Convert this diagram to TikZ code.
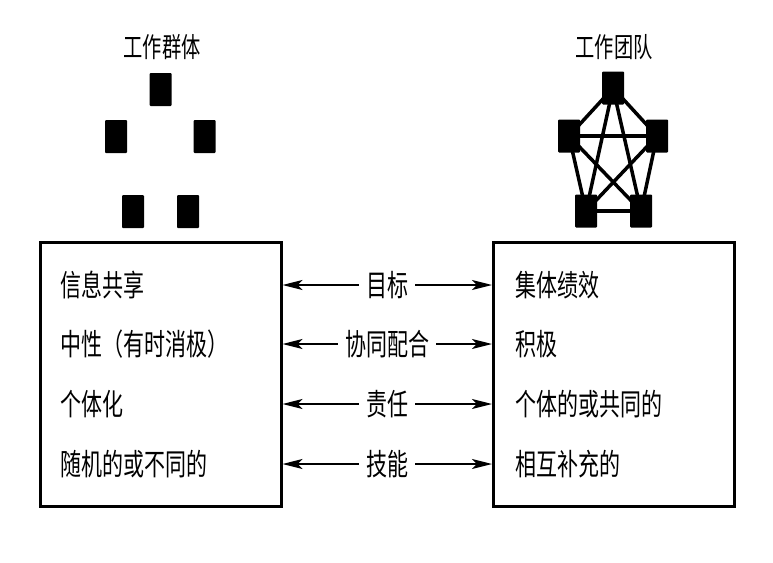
\documentclass[tikz,border=0pt]{standalone}
\usepackage{fontspec}
\newfontfamily\cjk[FakeStretch=0.70]{Noto Sans CJK SC}
\usepackage{tikz}
\usetikzlibrary{arrows.meta, positioning}

\begin{document}
\begin{tikzpicture}[
  x=1pt, y=-1pt,
  every node/.style={font=\cjk\fontsize{30}{32}\selectfont},
  member/.style={
    rectangle, fill=black, rounded corners=1pt,
    minimum width=22pt, minimum height=33pt, inner sep=0pt
  },
  panel/.style={
    rectangle, draw, line width=3pt,
    minimum width=241pt, minimum height=264pt, inner sep=0pt
  },
  heading/.style={font=\cjk\fontsize{27.5}{30}\selectfont},
  item/.style={anchor=west, inner sep=0pt},
  tag/.style={fill=white, inner xsep=7pt, inner ysep=2pt},
  twoway/.style={draw, line width=2pt,
    {Stealth[length=20pt,width=10pt,inset=5pt]}-{Stealth[length=20pt,width=10pt,inset=5pt]}},
  link/.style={draw, line width=3.5pt}
]

  \useasboundingbox (0,0) rectangle (773,562);

  % work group: loose members
  \node [heading] (grouptitle) at (162,47) {工作群体};
  \node [member] (ga) at (160.5,89.5) {};
  \node [member] (gb) at (116,136.5) {};
  \node [member] (gc) at (204.5,136.5) {};
  \node [member] (gd) at (133,211.5) {};
  \node [member] (ge) at (188,211.5) {};

  % work team: every member linked
  \node [heading] (teamtitle) at (614,47) {工作团队};
  \node [member] (ta) at (613,88) {};
  \node [member] (tb) at (569,136) {};
  \node [member] (tc) at (657,136) {};
  \node [member] (td) at (586,211) {};
  \node [member] (te) at (641,211) {};

  \path [link] (ta.center) -- (tb.center);
  \path [link] (ta.center) -- (tc.center);
  \path [link] (ta.center) -- (td.center);
  \path [link] (ta.center) -- (te.center);
  \path [link] (tb.center) -- (tc.center);
  \path [link] (tb.center) -- (td.center);
  \path [link] (tb.center) -- (te.center);
  \path [link] (tc.center) -- (td.center);
  \path [link] (tc.center) -- (te.center);
  \path [link] (td.center) -- (te.center);

  % the two panels
  \node [panel] (gbox) at (160.5,374) {};
  \node [panel] (tbox) at (614,374) {};

  \node [item] (g1) at (60,285) {信息共享};
  \node [item] (g2) at (60,344) {中性（有时消极）};
  \node [item] (g3) at (60,404) {个体化};
  \node [item] (g4) at (60,464) {随机的或不同的};

  \node [item] (t1) at (515,285) {集体绩效};
  \node [item] (t2) at (515,344) {积极};
  \node [item] (t3) at (515,404) {个体的或共同的};
  \node [item] (t4) at (515,464) {相互补充的};

  \path [twoway] (gbox.east |- g1) -- node[tag]{目标} (tbox.west |- t1);
  \path [twoway] (gbox.east |- g2) -- node[tag]{协同配合} (tbox.west |- t2);
  \path [twoway] (gbox.east |- g3) -- node[tag]{责任} (tbox.west |- t3);
  \path [twoway] (gbox.east |- g4) -- node[tag]{技能} (tbox.west |- t4);

\end{tikzpicture}
\end{document}
